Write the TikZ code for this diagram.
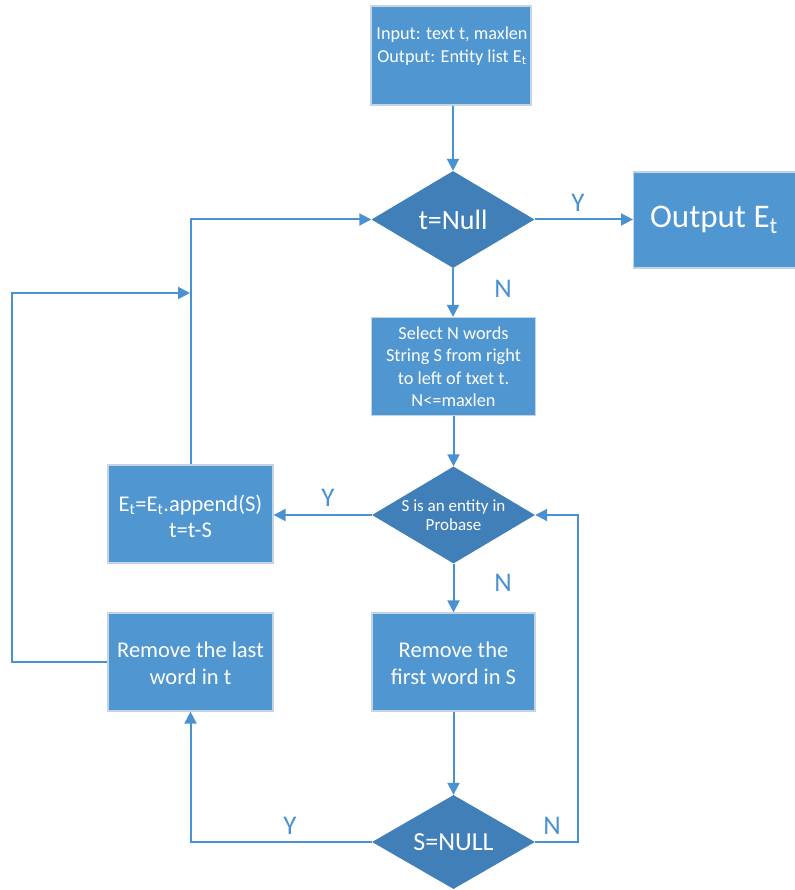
\documentclass[tikz,border=0pt]{standalone}
\usepackage{fontspec}
\setmainfont{Carlito}
\usetikzlibrary{shapes.geometric,arrows.meta}
\definecolor{boxfill}{RGB}{80,150,208}
\definecolor{diafill}{RGB}{65,127,184}
\definecolor{linec}{RGB}{74,145,210}
\definecolor{boxedge}{RGB}{196,212,228}
\begin{document}
\begin{tikzpicture}[x=1pt,y=-1pt,
  box/.style={rectangle, fill=boxfill, draw=boxedge, line width=1.2pt, inner sep=0pt},
  dia/.style={diamond, fill=diafill, inner sep=0pt, minimum width=163pt, minimum height=97pt},
  txt/.style={text=white, align=center, inner sep=0pt},
  arr/.style={draw=linec, line width=2pt, -{Triangle[length=12pt,width=12pt]}},
  ln/.style={draw=linec, line width=2pt},
  lab/.style={text=linec, inner sep=0pt, font=\fontsize{27}{30}\selectfont}]
\useasboundingbox (0,0) rectangle (794,890);
% boxes
\node[box, minimum width=160pt, minimum height=99pt] (b1) at (451,55.5) {};
\node[txt, font=\fontsize{18.2}{23}\selectfont] (b1t) at (452,46) {Input: text t, maxlen\\Output: Entity list E\textsubscript{t}};
\node[dia] (d1) at (453,219.5) {};
\node[txt, font=\fontsize{28}{30}\selectfont] (d1t) at (453,219.5) {t=Null};
\node[box, minimum width=166pt, minimum height=96pt, anchor=west] (out) at (633,220) {};
\node[txt, font=\fontsize{33}{36}\selectfont] (outt) at (714,220) {Output E\textsubscript{t}};
\node[box, minimum width=164pt, minimum height=98pt] (sel) at (453.5,366.5) {};
\node[txt, font=\fontsize{18.3}{22.5}\selectfont] (selt) at (453.5,366.5) {Select N words\\String S from right\\to left of txet t.\\N<=maxlen};
\node[dia] (d2) at (453.5,515) {};
\node[txt, font=\fontsize{17}{19.5}\selectfont] (d2t) at (453.5,515) {S is an entity in\\Probase};
\node[box, minimum width=165pt, minimum height=98pt] (et) at (190.5,514) {};
\node[txt, font=\fontsize{22.5}{26}\selectfont] (ett) at (190.5,516) {E\textsubscript{t}=E\textsubscript{t}.append(S)\\t=t-S};
\node[box, minimum width=163pt, minimum height=98pt] (rf) at (453.5,662) {};
\node[txt, font=\fontsize{22.5}{27}\selectfont] (rft) at (453.5,663) {Remove the\\first word in S};
\node[box, minimum width=165pt, minimum height=98pt] (rl) at (190.5,662) {};
\node[txt, font=\fontsize{22.5}{27}\selectfont] (rlt) at (190.5,663) {Remove the last\\word in t};
\node[dia, minimum height=94pt] (d3) at (453.5,842) {};
\node[txt, font=\fontsize{26}{28}\selectfont] (d3t) at (453.5,842) {S=NULL};
% helper coordinates
\coordinate (nr) at (578,0);
\coordinate (lx) at (12,293);
\coordinate (jx) at (190,293);
% connectors
\draw[arr] (b1.south -| d1.north) -- (d1.north);
\draw[arr] (d1.east) -- (d1.east -| out.west);
\draw[arr] (d1.south) -- (sel.north -| d1.south);
\draw[arr] (sel.south) -- (d2.north);
\draw[arr] (d2.west) -- (d2.west -| et.east);
\draw[arr] (et.north) |- (d1.west);
\draw[arr] (d2.south) -- (rf.north);
\draw[arr] (rf.south) -- (d3.north);
\draw[arr] (d3.west) -| (rl.south);
\draw[arr] (d3.east) -- (d3.east -| nr) |- (d2.east);
\draw[arr] (rl.west) -| (lx) -- (jx);
% labels
\node[lab] (ly1) at (578,203) {Y};
\node[lab] (ln1) at (503,289) {N};
\node[lab] (ly2) at (328,498) {Y};
\node[lab] (ln2) at (503,583) {N};
\node[lab] (ly3) at (290,826) {Y};
\node[lab] (ln3) at (552,826) {N};
\end{tikzpicture}
\end{document}
